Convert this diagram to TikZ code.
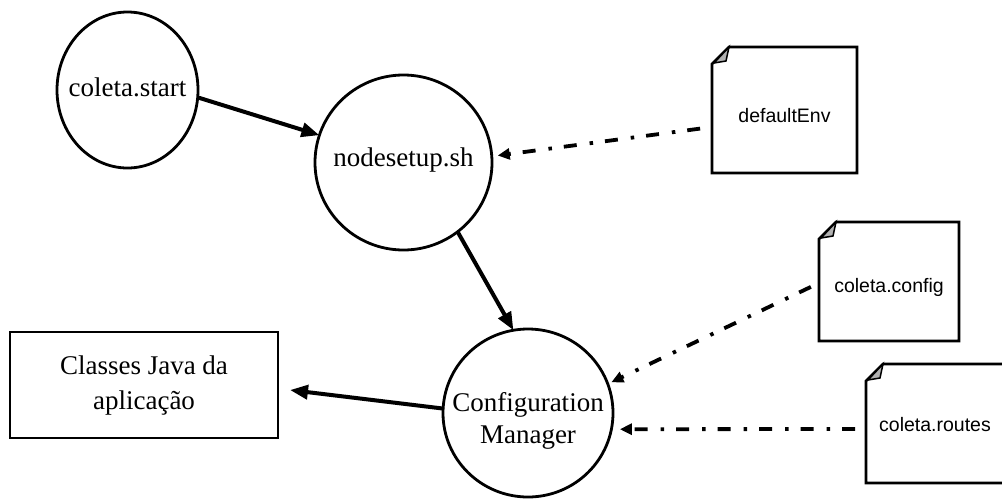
\documentclass[tikz,border=0pt]{standalone}
\usepackage{fontspec}
\setmainfont{Liberation Serif}
\newfontfamily\pagefont{Liberation Sans}
\usetikzlibrary{shapes.geometric,arrows.meta,calc}

% outline of a file icon with a curled top-left corner
\newcommand\pageoutline[1]{%
  \draw[pageedge] ($(#1.north west)+(0,17)$) -- ($(#1.north west)+(17,0)$)
     -- (#1.north east) -- (#1.south east) -- (#1.south west) -- cycle;
  \filldraw[pagefold] ($(#1.north west)+(2,16)$) -- ($(#1.north west)+(17,0)$)
     -- ($(#1.north west)+(14,14)$) -- cycle;
}

\begin{document}
\begin{tikzpicture}[x=1pt,y=-1pt,
  proc/.style={ellipse, draw, line width=2.8pt, inner sep=0pt, outer sep=0pt},
  proctext/.style={font=\fontsize{27}{32}\selectfont, align=center, inner sep=0pt},
  store/.style={rectangle, draw, line width=2pt, inner sep=0pt, outer sep=0pt,
                font=\fontsize{27}{35}\selectfont, align=center},
  page/.style={rectangle, inner sep=0pt, outer sep=0pt},
  pagetext/.style={font=\pagefont\fontsize{19.5}{23}\selectfont, inner sep=0pt},
  pageedge/.style={line width=2.8pt, line join=miter},
  pagefold/.style={line width=1.5pt, fill=black!30},
  flow/.style={line width=4pt, -{Triangle[length=18pt,width=14pt]}},
  feed/.style={line width=3.8pt, dash pattern=on 13pt off 12pt on 3.5pt off 13pt,
               -{Triangle[length=12pt,width=11pt]}},
]
\clip (0,0) rectangle (1002,499);

% processes
\node[proc, minimum width=141pt, minimum height=156pt,
      label={[proctext, name=startlbl, yshift=3pt]center:coleta.start}]
      (start) at (127.5,90) {};
\node[proc, minimum width=177pt, minimum height=175pt,
      label={[proctext, name=setuplbl, yshift=2pt]center:nodesetup.sh}]
      (nodesetup) at (403.5,162.5) {};
\node[proc, minimum width=170pt, minimum height=168pt,
      label={[proctext, name=cfglbl, yshift=-8pt]center:Configuration\\Manager}]
      (config) at (528,413) {};

% application classes
\node[store, minimum width=268pt, minimum height=106pt] (classes) at (144,385)
      {Classes Java da\\aplicação};

% configuration files
\node[page, minimum width=145pt, minimum height=126pt,
      label={[pagetext, name=defenvlbl, yshift=-6pt]center:defaultEnv}]
      (defenv) at (784.5,110) {};
\node[page, minimum width=140pt, minimum height=119pt,
      label={[pagetext, name=cfgfilelbl, yshift=-6pt]center:coleta.config}]
      (cfgfile) at (889,281.5) {};
\node[page, minimum width=138pt, minimum height=119pt,
      label={[pagetext, name=routeslbl, yshift=-1pt]center:coleta.routes}]
      (routes) at (935,423.5) {};
\pageoutline{defenv}
\pageoutline{cfgfile}
\pageoutline{routes}

% control flow
\draw[flow] (start.-6) -- (nodesetup.162);
\draw[flow] (nodesetup.-52) -- (config.100);
\coordinate (classesin) at ($(classes.east)+(12,5)$);
\draw[flow] (config.177) -- (classesin);

% configuration reads
\draw[feed, shorten <=12pt, shorten >=6pt] ($(defenv.west)+(0,17)$) -- (nodesetup.4);
\draw[feed, shorten <=9pt, shorten >=4pt] ($(cfgfile.west)+(0,1.5)$) -- (config.20);
\draw[feed, shorten <=11pt, shorten >=8.5pt] ($(routes.west)+(0,5.5)$) -- (config.-11);
\end{tikzpicture}
\end{document}
